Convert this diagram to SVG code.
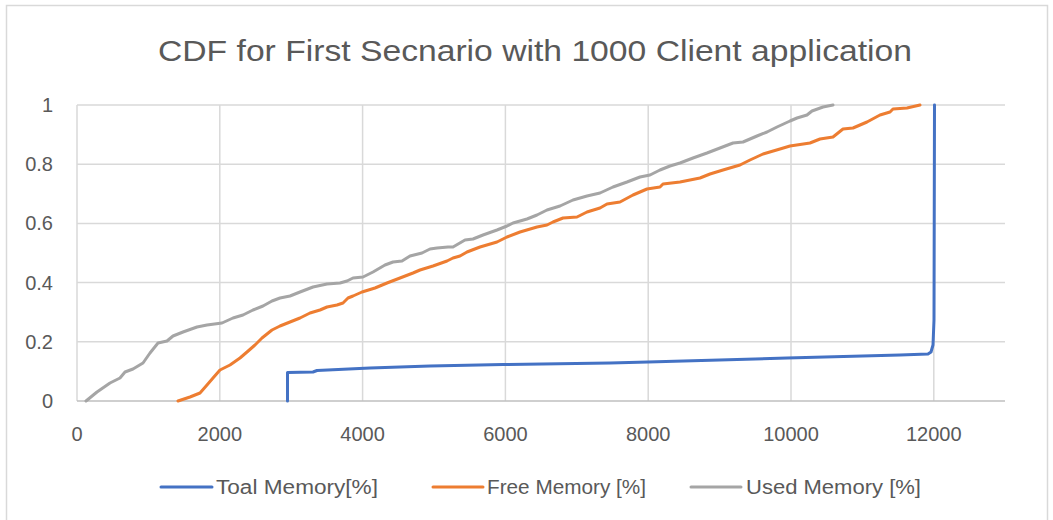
<svg xmlns="http://www.w3.org/2000/svg" width="1053" height="520" viewBox="0 0 1053 520">
  <style>
    .frame { fill: #ffffff; stroke: #d9d9d9; stroke-width: 1.5; }
    .grid { stroke: #d9d9d9; stroke-width: 1.5; fill: none; }
    .axis { stroke: #bfbfbf; stroke-width: 1.5; fill: none; }
    .lbl { font-family: "Liberation Sans", Arial, sans-serif; font-size: 20px; fill: #595959; }
    .title { font-family: "Liberation Sans", Arial, sans-serif; font-size: 30px; fill: #595959; }
    .series { fill: none; stroke-width: 3; stroke-linejoin: round; stroke-linecap: round; }
    .total { stroke: #4472c4; }
    .free { stroke: #ed7d31; }
    .used { stroke: #a5a5a5; }
  </style>

  <!-- chart frame -->
  <rect class="frame" x="6.5" y="5.5" width="1041" height="520"/>

  <!-- title -->
  <text id="title" class="title" x="158" y="61" textLength="754" lengthAdjust="spacingAndGlyphs">CDF for First Secnario with 1000 Client application</text>

  <!-- gridlines -->
  <g id="gridlines">
    <path class="grid" d="M77 105H1005M77 164.2H1005M77 223.4H1005M77 282.6H1005M77 341.8H1005"/>
    <path class="grid" d="M77 105V401M219.8 105V401M362.6 105V401M505.4 105V401M648.2 105V401M791 105V401M933.8 105V401"/>
    <path class="axis" d="M77 401H1005"/>
  </g>

  <!-- y axis labels -->
  <g id="y-axis" class="lbl" text-anchor="end">
    <text x="53" y="112">1</text>
    <text x="53" y="171">0.8</text>
    <text x="53" y="230">0.6</text>
    <text x="53" y="290">0.4</text>
    <text x="53" y="349">0.2</text>
    <text x="53" y="408">0</text>
  </g>

  <!-- x axis labels -->
  <g id="x-axis" class="lbl" text-anchor="middle">
    <text x="77" y="441">0</text>
    <text x="219.8" y="441">2000</text>
    <text x="362.6" y="441">4000</text>
    <text x="505.4" y="441">6000</text>
    <text x="648.2" y="441">8000</text>
    <text x="791" y="441">10000</text>
    <text x="933.8" y="441">12000</text>
  </g>

  <!-- data series -->
  <g id="series">
    <polyline id="used-memory" class="series used" points="86,401 97,392 110,383 120,378 125,372 133,369 143,363 150,353 158,343 167,341 173,336 183,332 197,327 207,325 222,323 233,318 243,315 253,310 263,306 272,301 280,298 290,296 300,292 313,287 327,284 340,283 347,281 353,278 363,277 373,272 385,265 393,262 402,261 410,256 422,253 430,249 437,248 448,247 453,247 465,240 473,239 483,235 497,230 507,226 513,223 527,219 537,215 547,210 560,206 573,200 587,196 600,193 613,187 627,182 640,177 650,175 660,170 670,166 680,163 693,158 707,153 720,148 733,143 743,142 757,136 767,132 777,127 790,121 797,118 807,115 812,111 823,107 833,105"/>
    <polyline id="free-memory" class="series free" points="178,401 190,397 200,393 207,385 213,378 220,370 230,365 240,358 247,352 255,345 262,338 272,330 280,326 290,322 300,318 310,313 320,310 327,307 337,305 343,303 348,298 353,296 362,292 375,288 387,283 400,278 413,273 420,270 433,266 447,261 453,258 460,256 467,252 480,247 497,242 507,237 520,232 537,227 547,225 553,222 563,218 577,217 587,212 600,208 607,204 620,202 633,195 647,189 660,187 663,184 680,182 700,178 710,174 723,170 740,165 750,160 763,154 780,149 790,146 810,143 820,139 833,137 843,129 853,128 867,122 880,115 890,112 893,109 907,108 920,105"/>
    <polyline id="total-memory" class="series total" points="287.5,401 287.5,372.5 313,372 317,370.5 370,368 430,366 503,364.5 610,363 648,362 787,358 900,355 928,354 931,352 933,345 934,320 934.5,105"/>
  </g>

  <!-- legend -->
  <g id="legend" class="lbl">
    <g id="legend-total">
      <line class="series total" x1="161" y1="487" x2="212" y2="487"/>
      <text x="216" y="494" textLength="162" lengthAdjust="spacingAndGlyphs">Toal Memory[%]</text>
    </g>
    <g id="legend-free">
      <line class="series free" x1="433" y1="487" x2="483" y2="487"/>
      <text x="487" y="494" textLength="159" lengthAdjust="spacingAndGlyphs">Free Memory [%]</text>
    </g>
    <g id="legend-used">
      <line class="series used" x1="691" y1="487" x2="741" y2="487"/>
      <text x="746" y="494" textLength="175" lengthAdjust="spacingAndGlyphs">Used Memory [%]</text>
    </g>
  </g>
</svg>
